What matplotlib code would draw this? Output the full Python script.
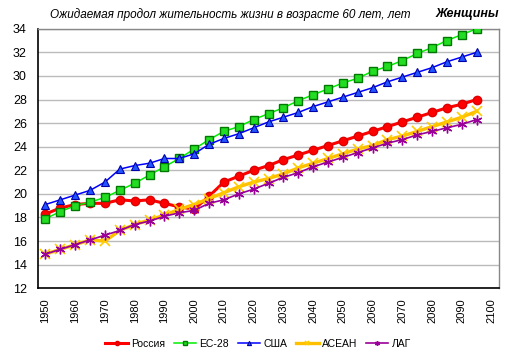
import numpy as np
import matplotlib.pyplot as plt

plt.rcParams['font.family'] = ['Liberation Sans', 'DejaVu Sans']

years = np.arange(1950, 2100, 5)

russia = [18.3, 18.8, 19.1, 19.2, 19.2, 19.5, 19.4, 19.5, 19.2, 18.9,
          18.7, 19.8, 21.0, 21.5, 22.0, 22.4, 22.9, 23.3, 23.7, 24.1,
          24.5, 24.9, 25.3, 25.7, 26.1, 26.5, 26.9, 27.3, 27.6, 28.0]
eu28 = [17.9, 18.5, 19.0, 19.3, 19.7, 20.3, 20.9, 21.6, 22.3, 23.0,
        23.8, 24.6, 25.3, 25.7, 26.3, 26.8, 27.3, 27.9, 28.4, 28.9,
        29.4, 29.8, 30.4, 30.8, 31.3, 31.9, 32.4, 33.0, 33.5, 34.0]
usa = [19.1, 19.5, 19.9, 20.3, 21.0, 22.1, 22.4, 22.6, 23.0, 23.0,
       23.4, 24.2, 24.7, 25.1, 25.6, 26.1, 26.5, 26.9, 27.4, 27.8,
       28.2, 28.6, 29.0, 29.5, 29.9, 30.3, 30.7, 31.2, 31.6, 32.0]
asean = [14.9, 15.3, 15.7, 16.1, 16.0, 16.9, 17.4, 17.8, 18.2, 18.7,
         19.1, 19.6, 20.1, 20.6, 21.0, 21.3, 21.7, 22.2, 22.6, 23.0,
         23.4, 23.8, 24.1, 24.6, 24.9, 25.3, 25.7, 26.1, 26.5, 27.0]
lag = [14.9, 15.3, 15.7, 16.1, 16.5, 16.9, 17.4, 17.7, 18.1, 18.4,
       18.6, 19.2, 19.5, 20.0, 20.4, 20.9, 21.4, 21.8, 22.3, 22.7,
       23.1, 23.5, 23.9, 24.3, 24.6, 25.0, 25.3, 25.6, 25.9, 26.3]

fig = plt.figure(figsize=(5.13, 3.59), dpi=100)
ax = fig.add_axes([0.0741, 0.197, 0.8986, 0.723])

ax.plot(years, russia, color='#ff0000', lw=2.2, marker='o', ms=6,
        mfc='#ff0000', mec='#dd0000', label='Россия', zorder=3)
ax.plot(years, eu28, color='#00ee00', lw=1.1, marker='s', ms=5.5,
        mfc='#22dd22', mec='#007700', mew=1, label='ЕС-28', zorder=3)
ax.plot(years, usa, color='#0000ff', lw=1.1, marker='^', ms=6,
        mfc='#2255ff', mec='#0000aa', mew=0.8, label='США', zorder=3)
ax.plot(years, asean, color='#ffc000', lw=2.4, marker='x', ms=7,
        mec='#ffcc00', mew=1.2, label='АСЕАН', zorder=3)
ax.plot(years, lag, color='#990099', lw=1.2, marker=(6, 2, 0), ms=7,
        mec='#990099', mew=1, label='ЛАГ', zorder=4)

ax.set_xlim(1947.5, 2102.5)
ax.set_ylim(12, 34)
ax.set_yticks(np.arange(12, 35, 2))
ax.set_xticks(np.arange(1950, 2101, 10))
ax.tick_params(axis='x', labelrotation=90, labelsize=8, length=0, pad=7)
ax.tick_params(axis='y', labelsize=9, length=0, pad=8)
ax.grid(axis='y', color='#bbbbbb', lw=1)
ax.set_axisbelow(True)

for s in ['left', 'bottom']:
    ax.spines[s].set_color('black')
    ax.spines[s].set_linewidth(1.2)
for s in ['top', 'right']:
    ax.spines[s].set_color('#888888')
    ax.spines[s].set_linewidth(1)

fig.text(0.449, 0.96, 'Ожидаемая продол жительность жизни в возрасте 60 лет, лет',
         ha='center', va='center', fontsize=8.5, style='italic')
fig.text(0.973, 0.96, 'Женщины', ha='right', va='center', fontsize=9,
         style='italic', weight='bold')

ax.legend(loc='center', bbox_to_anchor=(0.503, 0.042), bbox_transform=fig.transFigure,
          ncol=5, frameon=False, fontsize=7.5, handlelength=2.2, handletextpad=0.3,
          columnspacing=0.8, markerscale=0.5, borderpad=0)

fig.savefig('out.png', dpi=100)
